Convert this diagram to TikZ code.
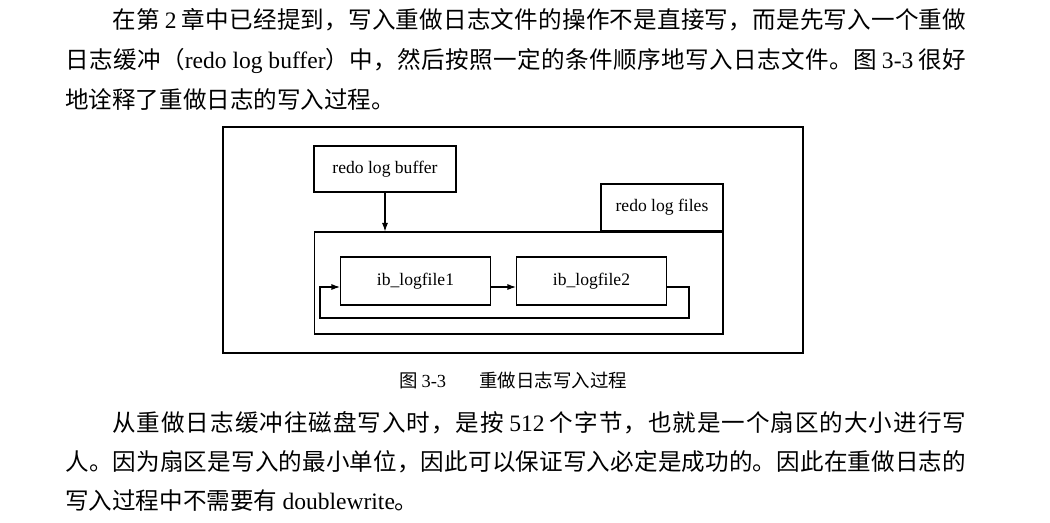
\documentclass[tikz,border=0pt]{standalone}
\usepackage{fontspec}
\setmainfont{Liberation Serif}
\newfontfamily\cjk{Noto Sans CJK SC}
\usetikzlibrary{arrows.meta}
\makeatletter
\count@="3400
\loop\ifnum\count@<"A000 \XeTeXcharclass\count@=5 \advance\count@ 1 \repeat
\makeatother
\XeTeXcharclass"3001=7 \XeTeXcharclass"3002=7 \XeTeXcharclass"FF0C=7
\XeTeXcharclass"FF09=7 \XeTeXcharclass"FF08=6
\XeTeXinterchartokenstate=1
\newcommand{\cjkglue}{\hskip 0pt plus 1fil\relax}
\XeTeXinterchartoks 5 5 = {\cjkglue}
\XeTeXinterchartoks 5 6 = {\cjkglue}
\XeTeXinterchartoks 5 7 = {\cjkglue}
\XeTeXinterchartoks 6 5 = {\cjkglue}
\XeTeXinterchartoks 7 5 = {\cjkglue}
\XeTeXinterchartoks 7 6 = {\cjkglue}
\XeTeXinterchartoks 7 7 = {\cjkglue}
\newcommand{\lat}[1]{{\rmfamily #1}}
\newcommand{\textline}[2]{\hbox to #1{#2}}

\begin{document}
\begin{tikzpicture}[>={Latex[length=1.7mm,width=1.2mm]}, x=0.02cm, y=-0.02cm,
    box/.style={draw, line width=0.6pt, inner sep=0pt, font=\fontsize{10}{12}\selectfont},
    body/.style={anchor=base west, inner sep=0pt, font=\cjk\fontsize{13.4}{16}\selectfont}]
    \useasboundingbox[fill=white] (0,0) rectangle (1050,522);
    % text above
    \node[body] (pa) at (112,28) {\textline{17.08cm}{在第 \lat{2} 章中已经提到，写入重做日志文件的操作不是直接写，而是先写入一个重做}};
    \node[body] (pb) at (65,68) {\textline{18.02cm}{日志缓冲（\lat{redo log buffer}）中，然后按照一定的条件顺序地写入日志文件。图 \lat{3-3} 很好}};
    \node[body] (pc) at (65,108) {地诠释了重做日志的写入过程。};
    % figure
    \draw[line width=0.8pt] (223,127) rectangle (803,353);
    \node[box, minimum width=2.84cm, minimum height=0.92cm] (buf) at (385,169) {redo log buffer};
    \node[box, minimum width=8.18cm, minimum height=2.04cm] (logs) at (518.5,283) {};
    \node[box, minimum width=2.44cm, minimum height=0.94cm, anchor=south east] (files) at (logs.north east) {redo log files};
    \node[box, minimum width=3cm, minimum height=0.96cm] (ibone) at (415.5,281) {ib\_logfile1};
    \node[box, minimum width=3cm, minimum height=0.96cm] (ibtwo) at (591.5,281) {ib\_logfile2};
    \coordinate (back) at ([xshift=-0.4cm, yshift=-0.12cm]ibone.west);
    \draw[->, line width=0.6pt] (buf) -- (buf |- logs.north);
    \draw[->, line width=0.6pt] ([yshift=-0.12cm]ibone.east) -- ([yshift=-0.12cm]ibtwo.west);
    \draw[->, line width=0.6pt] ([yshift=-0.12cm]ibtwo.east) -- ++(22,0) -- ++(0,31) -| (back) -- ([yshift=-0.12cm]ibone.west);
    \node[anchor=base, inner sep=0pt, font=\cjk\fontsize{10.5}{12}\selectfont] (cap) at (513,387) {图 \lat{3-3}\hspace{1.8em}重做日志写入过程};
    % text below
    \node[body] (qa) at (112,431) {\textline{17.08cm}{从重做日志缓冲往磁盘写入时，是按 \lat{512} 个字节，也就是一个扇区的大小进行写}};
    \node[body] (qb) at (65,470) {\textline{18.02cm}{人。因为扇区是写入的最小单位，因此可以保证写入必定是成功的。因此在重做日志的}};
    \node[body] (qc) at (65,509) {写入过程中不需要有 \lat{doublewrite}。};
\end{tikzpicture}
\end{document}
